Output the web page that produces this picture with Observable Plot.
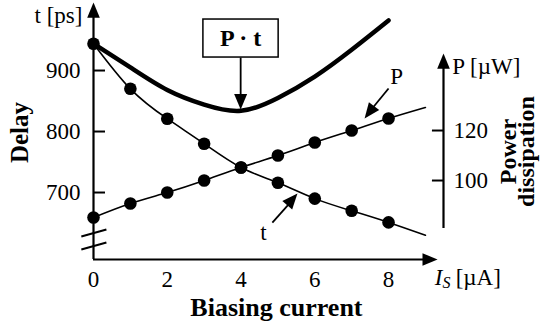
<!DOCTYPE html>
<html><head><meta charset="utf-8">
<script src="https://cdn.jsdelivr.net/npm/d3@7"></script>
<script src="https://cdn.jsdelivr.net/npm/@observablehq/plot@0.6"></script>
<style>body{margin:0;background:#fff} #chart svg{display:block}</style>
</head><body><div id="chart"></div>
<script>
// ---- data ----
const current = [0, 1, 2, 3, 4, 5, 6, 7, 8];                 // I_S [µA]
const delay = [944, 870, 821, 780, 741, 716, 690, 670, 651];  // t [ps]
const power = [85.2, 90.8, 95.2, 100, 105.2, 110, 115.2, 120, 124.8]; // P [µW]
// fitted curves (extend past the last measured point)
const curveCurrent = [0, 1, 2, 3, 4, 5, 6, 7, 8, 9];
const delayCurve = [944, 870, 821, 780, 741, 716, 690, 670, 651, 630];
const powerCurve = [85.2, 90.8, 95.2, 100, 105.2, 110, 115.2, 120, 124.8, 129.2];
// P·t product curve (drawn on the delay axis)
const productCurrent = [0, 1, 2, 3, 4, 5, 6, 7, 8];
const productValue = [944, 905, 868, 844, 834, 855, 890, 934, 982];
// tick labels
const currentTicks = [0, 2, 4, 6, 8];
const delayTicks = [700, 800, 900];
const powerTicks = [100, 120];

// secondary (power) axis mapped onto the delay axis
const pToDelay = p => 309.84 + 4.0984 * p;
const delayToP = d => (d - 309.84) / 4.0984;

const tRows = current.map((c, i) => ({c, v: delay[i]}));
const pRows = current.map((c, i) => ({c, v: pToDelay(power[i])}));
const tCurveRows = curveCurrent.map((c, i) => ({c, v: delayCurve[i]}));
const pCurveRows = curveCurrent.map((c, i) => ({c, v: pToDelay(powerCurve[i])}));
const prodRows = productCurrent.map((c, i) => ({c, v: productValue[i]}));

const serif = "Liberation Serif, 'Times New Roman', serif";
const head = deg => ({draw(ctx, size) {
  const r = Math.sqrt(size / Math.PI), L = 2.4 * r, W = 2 * r;
  const a = deg * Math.PI / 180, c = Math.cos(a), s = Math.sin(a);
  const pts = [[0, 0], [W / 2, L], [-W / 2, L]].map(([x, y]) => [x * c - y * s, x * s + y * c]);
  ctx.moveTo(pts[0][0], pts[0][1]); ctx.lineTo(pts[1][0], pts[1][1]); ctx.lineTo(pts[2][0], pts[2][1]); ctx.closePath();
}});
const one = [0];
function Y(py) { return 700 + (192 - py) * 1.6393; }

const chart = Plot.plot({
  width: 547, height: 326,
  marginLeft: 93, marginRight: 104, marginTop: 5, marginBottom: 67,
  x: {domain: [0, 9.49]},
  y: {domain: [590.2, 1006.6]},
  style: {fontFamily: serif, background: "white", color: "black"},
  marks: [
    // axes lines
    Plot.ruleX(one, {x: 0, y1: 590.2, y2: 995, strokeWidth: 2.2}),
    Plot.dot(one, {x: 0, y: 1011.5, symbol: head(0), r: 6.3, fill: "black"}),
    Plot.ruleY(one, {y: 590.2, x1: 0, x2: 9.14, strokeWidth: 2.2}),
    Plot.dot(one, {x: 9.33, y: 590.2, symbol: head(90), r: 6.3, fill: "black"}),
    Plot.ruleX(one, {x: 9.49, y1: 641, y2: 913, strokeWidth: 2.2}),
    Plot.dot(one, {x: 9.49, y: 927.9, symbol: head(0), r: 6.3, fill: "black"}),
    // break marks on the left axis
    Plot.link(one, {x1: -0.33, y1: Y(236), x2: 0.35, y2: Y(229), strokeWidth: 2}),
    Plot.link(one, {x1: -0.33, y1: Y(249), x2: 0.35, y2: Y(242), strokeWidth: 2}),
    // ticks
    Plot.ruleY(delayTicks, {y: d => d, x1: 0, x2: 0.325, strokeWidth: 2}),
    Plot.ruleY(powerTicks, {y: p => pToDelay(p), x1: 9.19, x2: 9.49, strokeWidth: 2}),
    Plot.axisY(delayTicks, {anchor: "left", tickSize: 0, tickPadding: 13, fontSize: 23, fontFamily: serif, label: null}),
    Plot.axisY(powerTicks.map(pToDelay), {anchor: "right", tickSize: 0, tickPadding: 10, fontSize: 23, fontFamily: serif, label: null,
      tickFormat: d => String(Math.round(delayToP(d)))}),
    Plot.axisX(currentTicks, {tickSize: 0, tickPadding: 11, fontSize: 23, fontFamily: serif, label: null}),
    // data: P·t thick curve
    Plot.line(prodRows, {x: "c", y: "v", curve: "natural", strokeWidth: 4.5}),
    // delay curve + points
    Plot.line(tCurveRows, {x: "c", y: "v", curve: "natural", strokeWidth: 1.6}),
    Plot.dot(tRows, {x: "c", y: "v", r: 6.3, fill: "black"}),
    // power line + points
    Plot.line(pCurveRows, {x: "c", y: "v", curve: "natural", strokeWidth: 1.6}),
    Plot.dot(pRows, {x: "c", y: "v", r: 6.3, fill: "black"}),
    // P·t box annotation
    Plot.link(one, {x1: 3.99, y1: 921.3, x2: 3.99, y2: 850, strokeWidth: 1.8}),
    Plot.dot(one, {x: 3.99, y: 836, symbol: head(180), r: 6.5, fill: "black"}),
    Plot.rect(one, {x1: 2.98, x2: 5.02, y1: 921.3, y2: 983.6, fill: "white", stroke: "black", strokeWidth: 1.5}),
    Plot.text(["P · t"], {x: 3.99, y: 953.6, fontSize: 24, fontWeight: "bold", fontFamily: serif}),
    // P annotation
    Plot.text(["P"], {x: 8.22, y: 890, fontSize: 23, fontFamily: serif}),
    Plot.link(one, {x1: 8.0, y1: 870.5, x2: 7.45, y2: 830, strokeWidth: 1.8}),
    Plot.dot(one, {x: 7.35, y: 821.3, symbol: head(217.5), r: 6.5, fill: "black"}),
    // t annotation
    Plot.text(["t"], {x: 4.61, y: 634.4, fontSize: 23, fontFamily: serif}),
    Plot.link(one, {x1: 4.85, y1: 650.8, x2: 5.43, y2: 690, strokeWidth: 1.8}),
    Plot.dot(one, {x: 5.53, y: 698.4, symbol: head(40.8), r: 6.5, fill: "black"}),
    // axis titles
    Plot.text(["t [ps]"], {x: -0.3, y: 990.8, textAnchor: "end", fontSize: 23, fontFamily: serif}),
    Plot.text(["P [µW]"], {x: 9.73, y: 905.6, textAnchor: "start", fontSize: 23, fontFamily: serif}),
    Plot.text(["Delay"], {x: -2.0, y: 798.4, rotate: -90, fontSize: 25, fontWeight: "bold", fontFamily: serif}),
    Plot.text(["Power\ndissipation"], {x: 11.55, y: 767.2, rotate: -90, lineHeight: 0.72, fontSize: 24, fontWeight: "bold", fontFamily: serif}),
    Plot.text(["Biasing current"], {x: 4.96, y: 512, fontSize: 26, fontWeight: "bold", fontFamily: serif}),
    Plot.text(["I"], {x: 9.25, y: 560.7, textAnchor: "start", fontSize: 23, fontStyle: "italic", fontFamily: serif}),
    Plot.text(["S"], {x: 9.46, y: 552.5, textAnchor: "start", fontSize: 16, fontStyle: "italic", fontFamily: serif}),
    Plot.text(["[µA]"], {x: 9.82, y: 560.7, textAnchor: "start", fontSize: 23, fontFamily: serif})
  ]
});
document.getElementById("chart").append(chart);
</script>
</body></html>
